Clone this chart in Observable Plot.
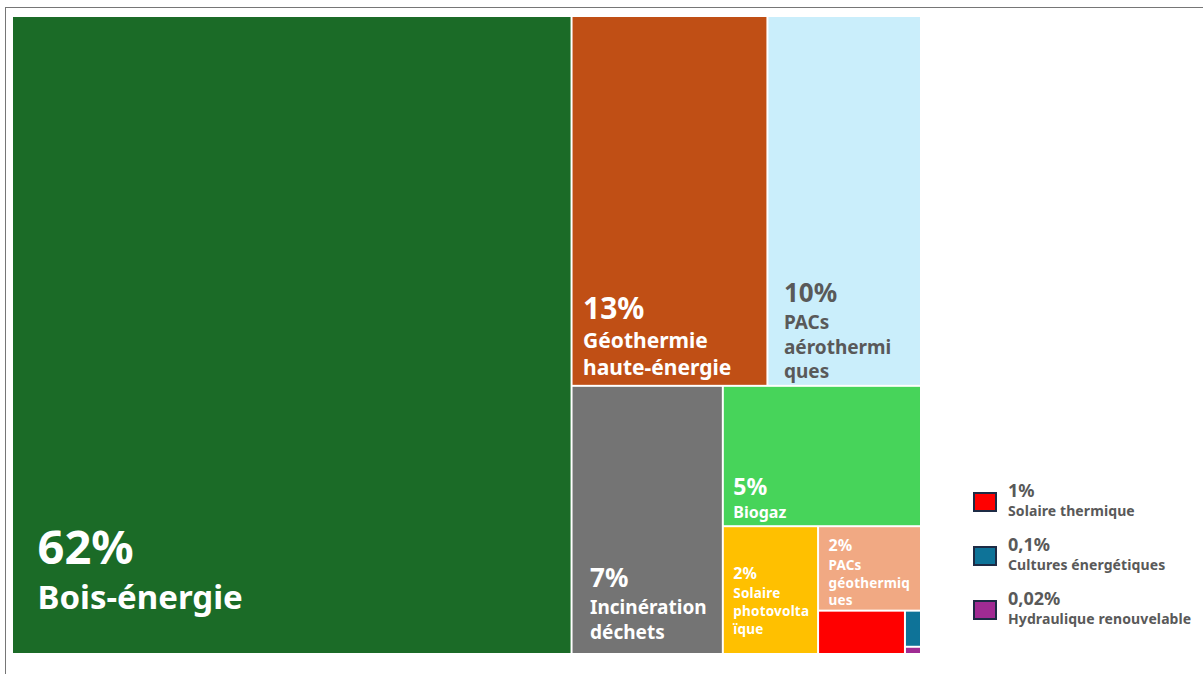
<!DOCTYPE html>
<html>
<head>
<meta charset="utf-8">
<script src="https://cdn.jsdelivr.net/npm/d3@7"></script>
<script src="https://cdn.jsdelivr.net/npm/@observablehq/plot@0.6"></script>
<style>
  html, body { margin: 0; padding: 0; background: #fff; }
  body { width: 1203px; height: 674px; position: relative; overflow: hidden; font-family: 'Noto Sans', sans-serif; }
  #frame { position: absolute; left: 5px; top: 7px; width: 1400px; height: 900px; border-top: 1px solid #767676; border-left: 1px solid #767676; }
  #chart { position: absolute; left: 0; top: 0; }
  #legend { position: absolute; left: 973px; top: 480px; }
  .item { position: absolute; left: 0; width: 240px; height: 50px; }
  .swatch { position: absolute; left: 0; top: 12px; width: 20px; height: 16px; border: 2px solid #1d2b45; }
  .pct { position: absolute; left: 35px; top: 0; font-size: 18px; font-weight: 700; color: #595959; line-height: 20px; white-space: nowrap; }
  .name { position: absolute; left: 35px; top: 21px; font-size: 14px; font-weight: 700; color: #595959; line-height: 20px; white-space: nowrap; letter-spacing: 0.1px; }
  .small-label { letter-spacing: 0.2px; }
</style>
</head>
<body>
<div id="frame"></div>
<div id="chart"></div>
<div id="legend"></div>
<script>
// ---- data ----
const categories = ["Bois-énergie", "Géothermie haute-énergie", "PACs aérothermiques", "Incinération déchets", "Biogaz", "Solaire photovoltaïque", "PACs géothermiques", "Solaire thermique", "Cultures énergétiques", "Hydraulique renouvelable"];
const shares = [61.6, 12.5, 9.8, 7.0, 4.8, 2.1, 1.5, 0.65, 0.1, 0.02];
const shareLabels = ["62%", "13%", "10%", "7%", "5%", "2%", "2%", "1%", "0,1%", "0,02%"];
const tileNames = ["Bois-énergie", "Géothermie\nhaute-énergie", "PACs\naérothermi\nques", "Incinération\ndéchets", "Biogaz", "Solaire\nphotovolta\nïque", "PACs\ngéothermiq\nues", "", "", ""];
const legendNames = ["", "", "", "", "", "", "", "Solaire thermique", "Cultures énergétiques", "Hydraulique renouvelable"];

// ---- styles ----
const colors = ["#1b6b27", "#c04f15", "#caeefb", "#747474", "#47d45a", "#ffc000", "#f1a983", "#ff0000", "#0e7398", "#a02b93"];
const textColors = ["#ffffff", "#ffffff", "#595959", "#ffffff", "#ffffff", "#ffffff", "#ffffff"];
const pctSizes = [47, 30, 26, 26, 23, 16, 16];
const nameSizes = [33, 21, 19, 19, 16, 13.5, 13.5];
const padX = [25, 11, 16, 18, 10, 10, 10];
const padBottom = [46, 11, 8, 16, 9, 21, 6];
const lineH = 1.3;
const rowSizes = [1, 2, 1, 1, 1, 1, 1, 1];

// ---- layout ----
const W = 909, H = 638, X0 = 12, Y0 = 16;

function rowTile(parent, x0, y0, x1, y1) {
  const nodes = parent.children;
  let value = parent.value, i = 0, k = 0;
  while (i < nodes.length) {
    const n = Math.min(rowSizes[k++] ?? nodes.length - i, nodes.length - i);
    const row = {children: nodes.slice(i, i + n)};
    row.value = d3.sum(row.children, d => d.value);
    const dx = x1 - x0, dy = y1 - y0;
    if (dx < dy) {
      const h = value ? dy * row.value / value : dy;
      d3.treemapDice(row, x0, y0, x1, y0 + h);
      y0 += h;
    } else {
      const w = value ? dx * row.value / value : dx;
      d3.treemapSlice(row, x0, y0, x0 + w, y1);
      x0 += w;
    }
    value -= row.value;
    i += n;
  }
}

const table = categories.map((c, i) => ({i, category: c, share: shares[i], label: shareLabels[i], name: tileNames[i], color: colors[i]}));
const root = d3.hierarchy({children: table}).sum(d => d.share || 0);
d3.treemap().tile(rowTile).size([W, H])(root);
const tiles = root.leaves().map(l => ({...l.data, x0: l.x0, x1: l.x1, y0: l.y0, y1: l.y1}));
const labelled = tiles.filter(d => d.name);
const bigLabels = labelled.filter(d => nameSizes[d.i] > 15);
const smallLabels = labelled.filter(d => nameSizes[d.i] <= 15);
const nLines = d => d.name.split("\n").length;
const nameY = d => d.y1 - padBottom[d.i];
const pctY = d => nameY(d) - nLines(d) * nameSizes[d.i] * lineH - 2;

const nameText = (data, cls) => Plot.text(data, {
  x: d => d.x0 + padX[d.i], y: nameY, text: "name",
  fill: d => textColors[d.i], fontSize: d => nameSizes[d.i], fontWeight: 700,
  textAnchor: "start", lineAnchor: "bottom", lineHeight: lineH, className: cls
});

const plot = Plot.plot({
  width: 1203,
  height: 674,
  margin: 0,
  x: {domain: [0, W], range: [X0, X0 + W], axis: null},
  y: {domain: [0, H], range: [Y0, Y0 + H], axis: null},
  color: {type: "identity"},
  style: {fontFamily: "'Noto Sans', sans-serif", background: "transparent"},
  marks: [
    Plot.rect(tiles, {x1: "x0", x2: "x1", y1: "y0", y2: "y1", fill: "color", inset: 1}),
    Plot.text(labelled, {
      x: d => d.x0 + padX[d.i], y: pctY, text: "label",
      fill: d => textColors[d.i], fontSize: d => pctSizes[d.i], fontWeight: 700,
      textAnchor: "start", lineAnchor: "bottom"
    }),
    nameText(bigLabels, "big-label"),
    nameText(smallLabels, "small-label")
  ]
});
document.getElementById("chart").appendChild(plot);

// ---- legend for tiles too small to label ----
const legend = document.getElementById("legend");
table.filter(d => legendNames[d.i]).forEach((d, k) => {
  const item = document.createElement("div");
  item.className = "item";
  item.style.top = (k * 54) + "px";
  item.innerHTML = `<div class="swatch" style="background:${d.color}"></div><div class="pct">${d.label}</div><div class="name">${legendNames[d.i]}</div>`;
  legend.appendChild(item);
});
</script>
</body>
</html>
